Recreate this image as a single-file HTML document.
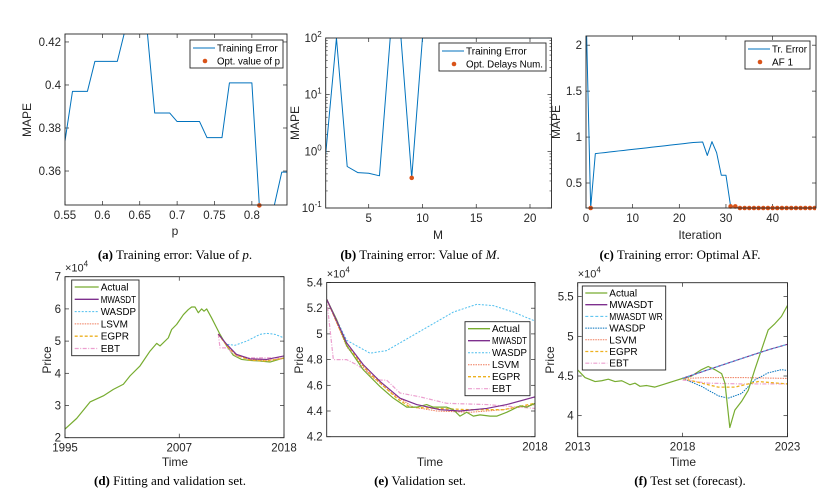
<!DOCTYPE html>
<html><head><meta charset="utf-8"><style>
body{margin:0;background:#fff;}
svg{display:block;font-family:"Liberation Sans",sans-serif;}
.cap{font-family:"Liberation Serif",serif;font-size:13px;fill:#000;}
</style></head><body>
<svg id="fig" width="839" height="493" viewBox="0 0 839 493" xmlns="http://www.w3.org/2000/svg">
<text class="cap" x="175" y="259" text-anchor="middle"><tspan font-weight="bold">(a)</tspan> Training error: Value of <tspan font-style="italic">p</tspan>.</text>
<text class="cap" x="420" y="259" text-anchor="middle"><tspan font-weight="bold">(b)</tspan> Training error: Value of <tspan font-style="italic">M</tspan>.</text>
<text class="cap" x="680" y="259" text-anchor="middle"><tspan font-weight="bold">(c)</tspan> Training error: Optimal AF.</text>
<text class="cap" x="170" y="485" text-anchor="middle"><tspan font-weight="bold">(d)</tspan> Fitting and validation set.</text>
<text class="cap" x="420" y="485" text-anchor="middle"><tspan font-weight="bold">(e)</tspan> Validation set.</text>
<text class="cap" x="690" y="485" text-anchor="middle"><tspan font-weight="bold">(f)</tspan> Test set (forecast).</text>
</svg>
<script>
// ---- data (a)
const aP=[0.55,0.56,0.57,0.58,0.59,0.60,0.61,0.62,0.63,0.64,0.65,0.66,0.67,0.68,0.69,0.70,0.71,0.72,0.73,0.74,0.75,0.76,0.77,0.78,0.79,0.80,0.81,0.82,0.83,0.84,0.85];
const aErr=[0.374,0.397,0.397,0.397,0.411,0.411,0.411,0.411,0.425,0.425,0.425,0.425,0.387,0.387,0.387,0.383,0.383,0.383,0.383,0.3755,0.3755,0.3755,0.401,0.401,0.401,0.401,0.344,0.344,0.344,0.3595,0.3595];
const aOptX=[0.81];const aOptY=[0.344];
// ---- data (b)
const bM=[1,2,3,4,5,6,7,8,9,10,11,12,13,14,15,16,17,18,19,20,21,22];
const bErr=[0.9,100,0.54,0.42,0.41,0.37,100,100,0.34,100,100,100,100,100,100,100,100,100,100,100,100,100];
const bOptX=[9];const bOptY=[0.34];
// ---- data (c)
const cIt=[0,1,2,3,4,5,6,7,8,9,10,11,12,13,14,15,16,17,18,19,20,21,22,23,24,25,26,27,28,29,30,31,32,33,34,35,36,37,38,39,40,41,42,43,44,45,46,47,48,49];
const cErr=[2.4,0.228,0.82,0.826,0.831,0.837,0.843,0.849,0.854,0.86,0.866,0.872,0.877,0.883,0.889,0.895,0.9,0.906,0.912,0.918,0.923,0.929,0.935,0.941,0.944,0.947,0.80,0.95,0.83,0.585,0.585,0.245,0.245,0.228,0.228,0.228,0.228,0.228,0.228,0.228,0.228,0.228,0.228,0.228,0.228,0.228,0.228,0.228,0.228,0.228];
const cAfX=[1,31,32,33,34,35,36,37,38,39,40,41,42,43,44,45,46,47,48,49];
const cAfY=[0.228,0.245,0.245,0.228,0.228,0.228,0.228,0.228,0.228,0.228,0.228,0.228,0.228,0.228,0.228,0.228,0.228,0.228,0.228,0.228];
// ---- data (d)
const dActX=[1995,1996.23,1997.63,1999.03,2000.08,2001.13,2001.83,2002.88,2003.93,2004.63,2004.98,2005.85,2006.2,2006.73,2007.43,2007.95,2008.3,2008.65,2009.0,2009.35,2009.6,2009.88,2010.4,2010.93,2011.28,2011.98,2012.68,2013.55,2014.43,2015.48,2016.53,2017.23,2018];
const dActY=[2.27,2.6,3.11,3.3,3.5,3.66,3.92,4.23,4.69,4.93,4.85,5.1,5.36,5.52,5.82,5.98,6.06,6.06,5.88,6.0,5.93,6.0,5.72,5.41,5.21,4.85,4.56,4.43,4.40,4.38,4.35,4.41,4.48];
const dWasX=[2011.1,2011.98,2012.85,2014.08,2015.48,2016.18,2017.05,2018];
const dWasY=[5.22,4.9,4.87,5.0,5.21,5.24,5.21,5.10];
const dEbtX=[2011.1,2011.28,2011.98,2013.0,2014.43,2018];
const dEbtY=[5.22,4.79,4.79,4.54,4.48,4.48];
const dFcX=[2011.1,2011.98,2013.0,2014.43,2016.18,2018];
const dMwY=[5.22,4.9,4.59,4.45,4.43,4.54];
const dLsY=[5.22,4.87,4.57,4.42,4.40,4.46];
const dEgY=[5.22,4.86,4.56,4.41,4.38,4.47];
// ---- data (e) (years after 2013)
const eActX=[0,.24,.48,.88,1.28,1.6,1.92,2.16,2.4,2.56,2.88,3.04,3.2,3.36,3.52,3.68,3.92,4.08,4.32,4.64,4.8,5];
const eActY=[5.27,5.11,4.91,4.72,4.59,4.50,4.43,4.43,4.45,4.43,4.43,4.41,4.36,4.39,4.36,4.37,4.36,4.36,4.39,4.44,4.43,4.46];
const eMwX=[0,.48,.88,1.28,1.76,2.16,2.72,3.2,3.84,4.32,5];
const eMwY=[5.27,4.93,4.76,4.63,4.50,4.45,4.41,4.40,4.42,4.45,4.51];
const eWasX=[0,.48,1.04,1.44,2.24,3.04,3.6,4.0,4.48,5];
const eWasY=[5.27,4.95,4.85,4.87,5.02,5.17,5.23,5.22,5.17,5.10];
const eLsX=[0,.48,1.04,1.6,2.08,2.64,3.44,4.24,5];
const eLsY=[5.27,4.90,4.68,4.53,4.43,4.40,4.39,4.41,4.45];
const eEgX=[0,.48,1.04,1.68,2.0,2.64,3.44,4.24,5];
const eEgY=[5.27,4.91,4.69,4.50,4.43,4.42,4.41,4.41,4.46];
const eEbtX=[0,.16,.48,.72,1.28,1.44,1.76,2.24,2.88,3.84,5];
const eEbtY=[5.27,4.80,4.80,4.76,4.64,4.64,4.54,4.51,4.46,4.45,4.42];
// ---- data (f) (years after 2013)
const fActX=[0,.35,.83,1.14,1.46,1.78,2.1,2.49,2.73,2.97,3.29,3.68,4.16,4.63,5,5.43,5.9,6.22,6.54,6.86,7.02,7.25,7.49,7.81,8.13,8.44,8.76,9.08,9.4,9.71,10];
const fActY=[4.576,4.48,4.43,4.44,4.46,4.43,4.44,4.39,4.41,4.37,4.38,4.36,4.40,4.44,4.47,4.50,4.58,4.62,4.58,4.53,4.41,3.85,4.07,4.18,4.32,4.58,4.83,5.08,5.16,5.25,5.39];
const fMwX=[5,6.22,7.81,9.08,10];
const fMwY=[4.47,4.58,4.72,4.83,4.90];
const fWasX=[5,5.9,6.7,7.17,7.81,8.44,9.08,9.71,10];
const fWasY=[4.47,4.37,4.25,4.22,4.28,4.45,4.54,4.58,4.57];
const fLsX=[5,6.22,7.81,10];
const fLsY=[4.47,4.48,4.48,4.47];
const fEgX=[5,5.9,6.7,7.49,8.6,10];
const fEgY=[4.47,4.41,4.36,4.36,4.43,4.40];
const fEbtX=[5,6.22,7.81,10];
const fEbtY=[4.45,4.41,4.40,4.40];

const NS="http://www.w3.org/2000/svg";
const svg=document.getElementById('fig');
function mk(tag,attrs,parent){const e=document.createElementNS(NS,tag);for(const k in attrs)e.setAttribute(k,attrs[k]);(parent||svg).appendChild(e);return e;}
let clipN=0;
function panel(c){
  const g=mk('g',{});
  
  
  const lg=v=>Math.log10(v);
  const sx=v=>c.L+(v-c.xd[0])/(c.xd[1]-c.xd[0])*(c.R-c.L);
  const sy=c.log?(v=>c.B-(lg(v)-lg(c.yd[0]))/(lg(c.yd[1])-lg(c.yd[0]))*(c.B-c.T)):(v=>c.B-(v-c.yd[0])/(c.yd[1]-c.yd[0])*(c.B-c.T));
  const id='clip'+(clipN++);
  const cp=mk('clipPath',{id:id},g);mk('rect',{x:c.L,y:c.T-3,width:c.R-c.L,height:c.B-c.T+6},cp);
  const cpl=mk('clipPath',{id:id+'l'},g);mk('rect',{x:c.L,y:c.T,width:c.R-c.L,height:c.B-c.T},cpl);
  const ax='#262626';
  c.xt.forEach((v,i)=>{const x=sx(v);
    mk('line',{x1:x,x2:x,y1:c.B,y2:c.B-4,stroke:ax,'stroke-width':0.7},g);
    mk('line',{x1:x,x2:x,y1:c.T,y2:c.T+4,stroke:ax,'stroke-width':0.7},g);
    const t=mk('text',{x:x,y:c.B+14,'text-anchor':'middle','font-size':11.5,fill:ax},g);t.textContent=c.xl[i];
    
    
  });
  c.yt.forEach((v,i)=>{const y=sy(v);
    mk('line',{x1:c.L,x2:c.L+4,y1:y,y2:y,stroke:ax,'stroke-width':0.7},g);
    mk('line',{x1:c.R,x2:c.R-4,y1:y,y2:y,stroke:ax,'stroke-width':0.7},g);
    const t=mk('text',{x:c.L-4,y:y+4,'text-anchor':'end','font-size':11.5,fill:ax},g);
    
    
    if(c.log){t.textContent='10';const s=mk('tspan',{'font-size':8,dy:-5},t);s.textContent=c.yl[i];}
    else t.textContent=c.yl[i];
  });
  if(c.log){for(let d=-1;d<2;d++)for(let m=2;m<10;m++){const y=sy(m*Math.pow(10,d));
    mk('line',{x1:c.L,x2:c.L+2,y1:y,y2:y,stroke:ax,'stroke-width':0.6},g);
    mk('line',{x1:c.R,x2:c.R-2,y1:y,y2:y,stroke:ax,'stroke-width':0.6},g);}}
  if(c.exp){const t=mk('text',{x:c.L,y:c.T-5,'font-size':11,fill:ax},g);t.textContent='\u00d710';const s=mk('tspan',{'font-size':8,dy:-5},t);s.textContent='4';
    
    }
  c.series.forEach(s=>{
    if(s.marker){s.x.forEach((v,i)=>{const m=mk('circle',{cx:sx(v),cy:sy(s.y[i]),r:2.3,fill:s.color,'clip-path':'url(#'+id+')'},g);
      
      });return;}
    const d=s.x.map((v,i)=>(i?'L':'M')+sx(v).toFixed(2)+','+sy(s.y[i]).toFixed(2)).join('');
    const p=mk('path',{d:d,fill:'none',stroke:s.color,'stroke-width':s.w||1,'stroke-dasharray':s.dash||'none','clip-path':'url(#'+id+'l)','stroke-linejoin':'round'},g);
    
    
  });
  const box=mk('rect',{x:c.L,y:c.T,width:c.R-c.L,height:c.B-c.T,fill:'none',stroke:ax,'stroke-width':0.9},g);
  
  
  const xl=mk('text',{x:c.xlab[1],y:c.xlab[2],'text-anchor':'middle','font-size':12,fill:ax},g);xl.textContent=c.xlab[0];
  
  
  const yl=mk('text',{x:0,y:0,'text-anchor':'middle','font-size':12,fill:ax,transform:'translate('+c.ylab[1]+','+c.ylab[2]+') rotate(-90)'},g);yl.textContent=c.ylab[0];
  
  
  const L=c.leg;
  const lb=mk('rect',{x:L.x,y:L.y,width:L.w,height:L.h,fill:'#fff',stroke:ax,'stroke-width':0.9},g);
  
  
  L.items.forEach((it,i)=>{const yy=L.y+L.pad+i*L.dy;
    if(it.marker)mk('circle',{cx:L.x+L.sw/2+4,cy:yy,r:2.3,fill:it.color},g);
    else mk('line',{x1:L.x+3,x2:L.x+3+L.sw,y1:yy,y2:yy,stroke:it.color,'stroke-width':it.w||1,'stroke-dasharray':it.dash||'none'},g);
    const t=mk('text',{x:L.x+5+L.sw,y:yy+3.5,'font-size':10,fill:'#000'},g);t.textContent=it.label;
    
    
    const avail=L.w-L.sw-8;
    if(t.getComputedTextLength&&t.getComputedTextLength()>avail){t.setAttribute('textLength',avail);t.setAttribute('lengthAdjust','spacingAndGlyphs');}
  });
}
const BL='#0072BD',OR='#D95319',GR='#77AC30',PU='#7E2F8E',LB='#4DBEEE',YE='#EDB120',PK='#EC9FCF',LS='#EF7B5A';
panel({name:'chart-a',L:65,R:287,T:34,B:205,xd:[0.55,0.847],yd:[0.3442,0.4237],
  xt:[0.55,0.6,0.65,0.7,0.75,0.8],xl:['0.55','0.6','0.65','0.7','0.75','0.8'],
  yt:[0.36,0.38,0.40,0.42],yl:['0.36','0.38','0.4','0.42'],
  xlab:['p',175,235],ylab:['MAPE',31,120],
  series:[{x:aP,y:aErr,color:BL,dn:'training-error-line'},{x:aOptX,y:aOptY,color:OR,marker:1,dn:'opt-p-marker'}],
  leg:{x:190,y:40,w:93,h:28,pad:8,dy:13,sw:22,items:[{label:'Training Error',color:BL},{label:'Opt. value of p',color:OR,marker:1}]}});
panel({name:'chart-b',L:325.7,R:551.5,T:38,B:208,xd:[1,22],yd:[0.1,100],log:1,
  xt:[5,10,15,20],xl:['5','10','15','20'],
  yt:[0.1,1,10,100],yl:['-1','0','1','2'],
  xlab:['M',438,239],ylab:['MAPE',299,123],
  series:[{x:bM,y:bErr,color:BL,dn:'training-error-line'},{x:bOptX,y:bOptY,color:OR,marker:1,dn:'opt-delays-marker'}],
  leg:{x:439,y:43,w:107,h:28,pad:8,dy:13,sw:22,items:[{label:'Training Error',color:BL},{label:'Opt. Delays Num.',color:OR,marker:1}]}});
panel({name:'chart-c',L:586,R:816,T:36,B:208,xd:[0,49.3],yd:[0.228,2.1],
  xt:[0,10,20,30,40],xl:['0','10','20','30','40'],
  yt:[0.5,1,1.5,2],yl:['0.5','1','1.5','2'],
  xlab:['Iteration',700,239],ylab:['MAPE',560,122],
  series:[{x:cIt,y:cErr,color:BL,dn:'tr-error-line'},{x:cAfX,y:cAfY,color:OR,marker:1,dn:'af1-marker'}],
  leg:{x:745,y:41,w:65,h:28,pad:8,dy:13,sw:22,items:[{label:'Tr. Error',color:BL},{label:'AF 1',color:OR,marker:1}]}});
panel({name:'chart-d',L:65,R:284,T:276.7,B:437.7,xd:[1995,2018],yd:[2,7],exp:1,
  xt:[1995,2007,2018],xl:['1995','2007','2018'],
  yt:[2,3,4,5,6,7],yl:['2','3','4','5','6','7'],
  xlab:['Time',175,466],ylab:['Price',51,360],
  series:[{x:dActX,y:dActY,color:GR,w:1.2,dn:'actual-line'},{x:dWasX,y:dWasY,color:LB,dash:'2,1.5',dn:'wasdp-line'},
    {x:dEbtX,y:dEbtY,color:PK,dash:'4,1.5,1,1.5',w:1.2,dn:'ebt-line'},{x:dFcX,y:dLsY,color:LS,dash:'1.5,1',dn:'lsvm-line'},
    {x:dFcX,y:dEgY,color:YE,dash:'3,2',w:1.3,dn:'egpr-line'},{x:dFcX,y:dMwY,color:PU,w:1.2,dn:'mwasdt-line'}],
  leg:{x:71.7,y:280,w:67.3,h:75.7,pad:7,dy:12.3,sw:24,items:[{label:'Actual',color:GR,w:1.3},{label:'MWASDT',color:PU,w:1.3},{label:'WASDP',color:LB,dash:'2,1.5'},{label:'LSVM',color:LS,dash:'1.5,1'},{label:'EGPR',color:YE,dash:'3,2',w:1.3},{label:'EBT',color:PK,dash:'4,1.5,1,1.5',w:1.2}]}});
panel({name:'chart-e',L:326.7,R:535,T:282.5,B:436.7,xd:[0,5],yd:[4.2,5.4],exp:1,
  xt:[5],xl:['2018'],
  yt:[4.2,4.4,4.6,4.8,5.0,5.2,5.4],yl:['4.2','4.4','4.6','4.8','5','5.2','5.4'],
  xlab:['Time',430,466],ylab:['Price',303,360],
  series:[{x:eWasX,y:eWasY,color:LB,dash:'2,1.5',dn:'wasdp-line'},{x:eEbtX,y:eEbtY,color:PK,dash:'4,1.5,1,1.5',w:1.2,dn:'ebt-line'},
    {x:eLsX,y:eLsY,color:LS,dash:'1.5,1',dn:'lsvm-line'},{x:eEgX,y:eEgY,color:YE,dash:'3,2',w:1.3,dn:'egpr-line'},
    {x:eActX,y:eActY,color:GR,w:1.2,dn:'actual-line'},{x:eMwX,y:eMwY,color:PU,w:1.2,dn:'mwasdt-line'}],
  leg:{x:465,y:321.7,w:65,h:74,pad:7,dy:12,sw:22,items:[{label:'Actual',color:GR,w:1.3},{label:'MWASDT',color:PU,w:1.3},{label:'WASDP',color:LB,dash:'2,1.5'},{label:'LSVM',color:LS,dash:'1.5,1'},{label:'EGPR',color:YE,dash:'3,2',w:1.3},{label:'EBT',color:PK,dash:'4,1.5,1,1.5',w:1.2}]}});
panel({name:'chart-f',L:577.7,R:787.5,T:282.7,B:436.7,xd:[0,10],yd:[3.735,5.676],exp:1,
  xt:[0,5,10],xl:['2013','2018','2023'],
  yt:[4,4.5,5,5.5],yl:['4','4.5','5','5.5'],
  xlab:['Time',683,466],ylab:['Price',554,360],
  series:[{x:fWasX,y:fWasY,color:BL,dash:'1.5,1',dn:'wasdp-line'},{x:fEbtX,y:fEbtY,color:PK,dash:'4,1.5,1,1.5',w:1.2,dn:'ebt-line'},
    {x:fLsX,y:fLsY,color:LS,dash:'1.5,1',dn:'lsvm-line'},{x:fEgX,y:fEgY,color:YE,dash:'3,2',w:1.3,dn:'egpr-line'},
    {x:fActX,y:fActY,color:GR,w:1.2,dn:'actual-line'},{x:fMwX,y:fMwY,color:PU,w:1.2,dn:'mwasdt-line'},
    {x:fMwX,y:fMwY,color:LB,dash:'3,2',w:0.9,dn:'mwasdt-wr-line'}],
  leg:{x:582.3,y:286,w:83.4,h:84,pad:7,dy:11.7,sw:22,items:[{label:'Actual',color:GR,w:1.3},{label:'MWASDT',color:PU,w:1.3},{label:'MWASDT WR',color:LB,dash:'3,2'},{label:'WASDP',color:BL,dash:'1.5,1'},{label:'LSVM',color:LS,dash:'1.5,1'},{label:'EGPR',color:YE,dash:'3,2',w:1.3},{label:'EBT',color:PK,dash:'4,1.5,1,1.5',w:1.2}]}});
</script>
</body></html>
